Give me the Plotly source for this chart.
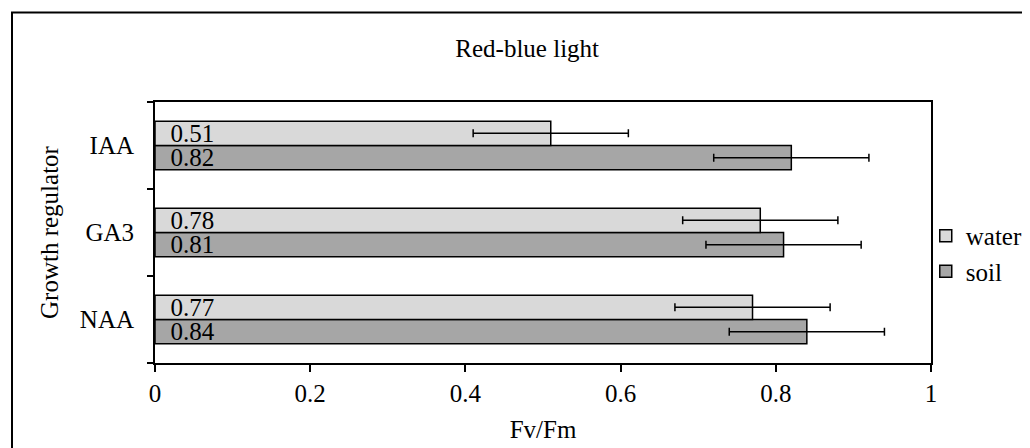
import plotly.graph_objects as go

categories = ["IAA", "GA3", "NAA"]
water = [0.51, 0.78, 0.77]
soil = [0.82, 0.81, 0.84]
water_err = [0.1, 0.1, 0.1]
soil_err = [0.1, 0.1, 0.1]
x_ticks = [0, 0.2, 0.4, 0.6, 0.8, 1]
x_tick_labels = ["0", "0.2", "0.4", "0.6", "0.8", "1"]

FONT = "Liberation Serif, Times New Roman, serif"
NB = "\u00a0\u00a0"

# figure is placed 8px from the page's top-left corner by the default body margin
W, H = 1022, 440
PL, PR, PT, PB = 147, 99, 94, 85
PW, PH = W - PL - PR, H - PT - PB

fig = go.Figure()
fig.add_trace(go.Bar(
    name="soil", y=categories, x=soil, orientation="h",
    marker=dict(color="#a6a6a6", line=dict(color="black", width=1.5)),
    error_x=dict(type="data", array=soil_err, color="black", thickness=1.5, width=4),
    text=[NB + f"{v:.2f}" for v in soil], textposition="inside",
    insidetextanchor="start", constraintext="none",
    textfont=dict(family=FONT, size=25, color="black"),
))
fig.add_trace(go.Bar(
    name="water", y=categories, x=water, orientation="h",
    marker=dict(color="#d9d9d9", line=dict(color="black", width=1.5)),
    error_x=dict(type="data", array=water_err, color="black", thickness=1.5, width=4),
    text=[NB + f"{v:.2f}" for v in water], textposition="inside",
    insidetextanchor="start", constraintext="none",
    textfont=dict(family=FONT, size=25, color="black"),
))

fig.update_layout(
    width=W, height=H, autosize=False,
    margin=dict(l=PL, r=PR, t=PT, b=PB, pad=0, autoexpand=False),
    paper_bgcolor="white", plot_bgcolor="white",
    font=dict(family=FONT, size=25, color="black"),
    barmode="group", bargap=0.44, bargroupgap=0,
    showlegend=True,
    legend=dict(traceorder="reversed", xref="container", x=0.898, xanchor="left",
                yref="paper", y=0.42, yanchor="middle",
                font=dict(family=FONT, size=25), bgcolor="rgba(0,0,0,0)", itemwidth=30),
    title=dict(text="Red-blue light", x=0.508, xanchor="center", xref="container",
               y=0.909, yanchor="middle", yref="container",
               font=dict(family=FONT, size=25)),
    xaxis=dict(range=[0, 1], tickvals=x_ticks, ticktext=x_tick_labels,
               showgrid=False, zeroline=False, showline=True, linecolor="black", linewidth=2,
               mirror=True, ticks="outside", ticklen=7, tickwidth=1.5, tickcolor="black",
               title=dict(text="Fv/Fm", standoff=14, font=dict(family=FONT, size=25)),
               tickfont=dict(family=FONT, size=25)),
    yaxis=dict(categoryorder="array", categoryarray=categories[::-1],
               showgrid=False, zeroline=False, showline=True, linecolor="black", linewidth=2,
               mirror=True, ticks="outside", ticklen=6, tickwidth=1.5, tickcolor="black",
               tickson="boundaries", ticklabelstandoff=14,
               title=dict(text="Growth regulator", standoff=14, font=dict(family=FONT, size=25)),
               tickfont=dict(family=FONT, size=25)),
    shapes=[dict(type="rect", xref="paper", yref="paper",
                 x0=(4 - PL) / PW, x1=(1040 - PL) / PW,
                 y0=(PT + PH - 470) / PH, y1=(PT + PH - 4.5) / PH,
                 line=dict(color="black", width=2), fillcolor="rgba(0,0,0,0)", layer="below")],
)

fig.write_html("out.html")
